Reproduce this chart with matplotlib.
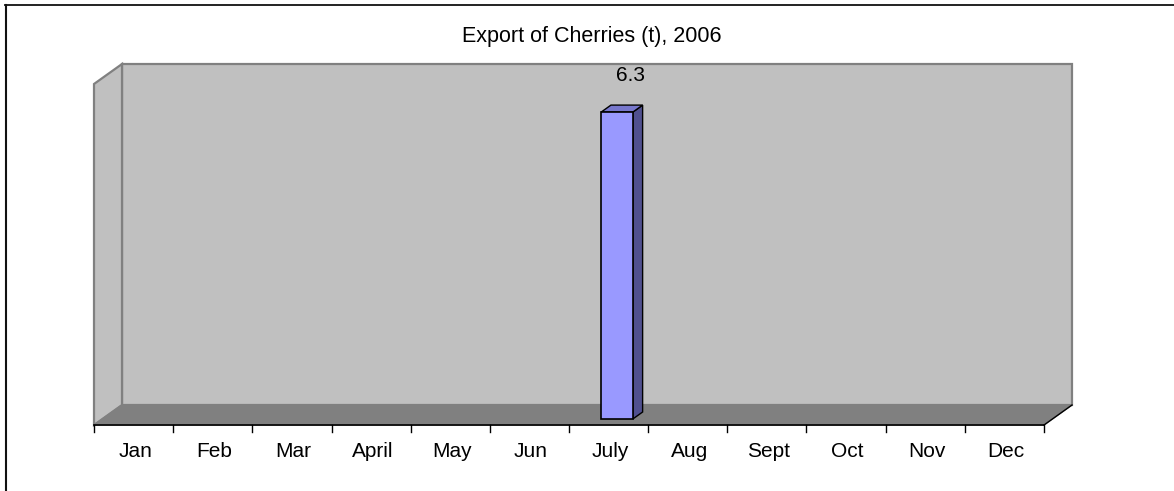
import matplotlib
matplotlib.use("Agg")
import matplotlib.pyplot as plt
import numpy as np
from matplotlib.patches import Polygon
from matplotlib.lines import Line2D
from matplotlib.transforms import IdentityTransform, offset_copy

plt.rcParams['font.family'] = ['Liberation Sans', 'DejaVu Sans']

# Data
months = ["Jan", "Feb", "Mar", "April", "May", "Jun",
          "July", "Aug", "Sept", "Oct", "Nov", "Dec"]
export_t = [0, 0, 0, 0, 0, 0, 6.3, 0, 0, 0, 0, 0]
title = "Export of Cherries (t), 2006"
y_max = 7

W, H, DPI = 1174, 491, 100
fig = plt.figure(figsize=(W / DPI, H / DPI), dpi=DPI)
fig.patch.set_facecolor("white")

# Front plane of the 3-D box
ax = fig.add_axes([94 / W, 66 / H, 950 / W, 341 / H])
ax.set_xlim(0, len(months))
ax.set_ylim(0, y_max)
ax.axis("off")

# depth vector in pixels (right, up)
DEPTH = np.array([28.0, 20.0])


def proj(x, y, d):
    p = ax.transData.transform((x, y))
    return p + d * DEPTH


def face(points, fc, ec, lw=1.0, z=1):
    poly = Polygon(np.array(points), closed=True, transform=IdentityTransform(),
                   facecolor=fc, edgecolor=ec, linewidth=lw, zorder=z, clip_on=False)
    ax.add_artist(poly)


def seg(p0, p1, color, lw=1.0, z=3):
    p0, p1 = np.asarray(p0), np.asarray(p1)
    ax.add_artist(Line2D([p0[0], p1[0]], [p0[1], p1[1]], transform=IdentityTransform(),
                         color=color, linewidth=lw, zorder=z, clip_on=False))


n = len(months)
wall = "#C0C0C0"
wall_edge = "#808080"
floor = "#808080"

# back wall
face([proj(0, 0, 1), proj(n, 0, 1), proj(n, y_max, 1), proj(0, y_max, 1)],
     wall, wall_edge, lw=1.6, z=1)
# side wall
face([proj(0, 0, 0), proj(0, 0, 1), proj(0, y_max, 1), proj(0, y_max, 0)],
     wall, wall_edge, lw=1.6, z=1.1)
# floor
face([proj(0, 0, 0), proj(n, 0, 0), proj(n, 0, 1), proj(0, 0, 1)],
     floor, floor, lw=1.0, z=1.2)
seg(proj(n, 0, 0), proj(n, 0, 1), "black", lw=1.0, z=1.3)
seg(proj(0, 0, 0), proj(n, 0, 0), "black", lw=1.2, z=4)

# category ticks
for i in range(n + 1):
    p = proj(i, 0, 0)
    seg(p, p + np.array([0, -7]), "black", lw=1.0, z=4)

# bars
bar_w = 0.4
d0, d1 = 0.3, 0.65
front_c, top_c, side_c = "#9999FF", "#7777CC", "#50508F"
for i, v in enumerate(export_t):
    if v <= 0:
        continue
    x0 = i + (1 - bar_w) / 2
    x1 = x0 + bar_w
    # side
    face([proj(x1, 0, d0), proj(x1, 0, d1), proj(x1, v, d1), proj(x1, v, d0)],
         side_c, "black", lw=1.0, z=5)
    # top
    face([proj(x0, v, d0), proj(x1, v, d0), proj(x1, v, d1), proj(x0, v, d1)],
         top_c, "black", lw=1.0, z=5)
    # front
    face([proj(x0, 0, d0), proj(x1, 0, d0), proj(x1, v, d0), proj(x0, v, d0)],
         front_c, "black", lw=1.2, z=6)
    # value label
    lbl_tr = offset_copy(ax.transData, fig=fig, x=21.5, y=37, units="dots")
    ax.text(i + 0.5, v, f"{v:g}", transform=lbl_tr, ha="center", va="baseline",
            fontsize=15, color="black", zorder=7, clip_on=False)

# category labels
lab_tr = offset_copy(ax.transData, fig=fig, x=1.5, y=-32, units="dots")
for i, m in enumerate(months):
    ax.text(i + 0.5, 0, m, transform=lab_tr, ha="center", va="baseline",
            fontsize=15, color="black", clip_on=False)

# title
fig.text(592 / W, 1 - 42 / H, title, ha="center", va="baseline",
         fontsize=15.5, color="black")

# chart frame (top and left edges)
fig.add_artist(Line2D([5 / W, 1.0], [1 - 4.5 / H, 1 - 4.5 / H],
                      transform=fig.transFigure, color="#111111", linewidth=1.3))
fig.add_artist(Line2D([5.5 / W, 5.5 / W], [0, 1 - 4.5 / H],
                      transform=fig.transFigure, color="#111111", linewidth=1.5))

fig.savefig("out.png", dpi=DPI)
